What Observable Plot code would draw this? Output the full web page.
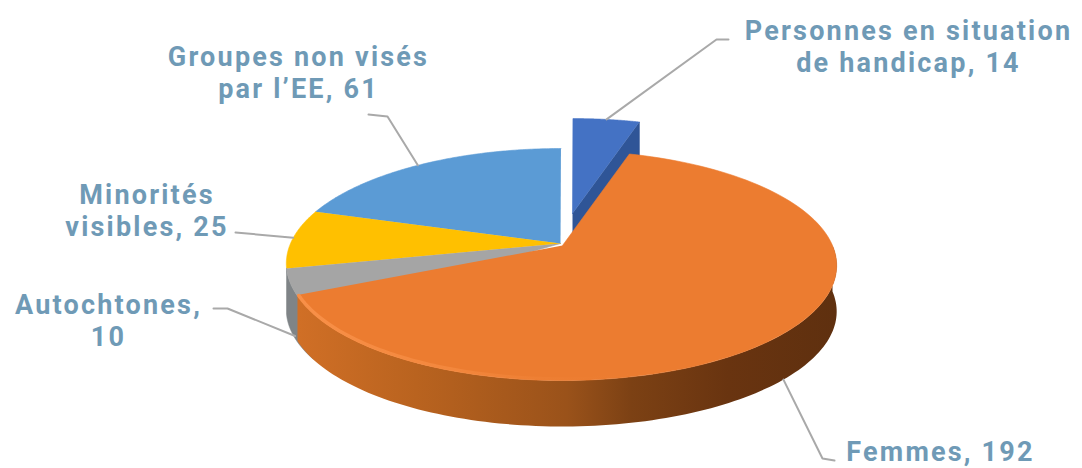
<!DOCTYPE html>
<html lang="fr">
<head>
<meta charset="utf-8">
<style>
  html, body { margin: 0; padding: 0; background: #fff; }
  svg { display: block; }
  svg text { letter-spacing: 2.2px; }
</style>
<script src="https://cdn.jsdelivr.net/npm/d3@7"></script>
<script src="https://cdn.jsdelivr.net/npm/@observablehq/plot@0.6"></script>
</head>
<body>
<div id="chart"></div>
<script>
// Slices in clockwise order, starting from the large one.
const names = ["Femmes", "Autochtones", "Minorités\nvisibles", "Groupes non visés\npar l’EE", "Personnes en situation\nde handicap"];
const separators = [", ", ",\n", ", ", ", ", ", "];
const values = [192, 10, 25, 61, 14];
const colors = ["#ec7c30", "#a5a5a5", "#ffc000", "#5b9bd5", "#4472c4"];
const wallColors = ["url(#wall)", "#7f8487", "#c79500", "#3f78aa", "#2f5597"];

// Perspective model of the disc, in pixels.
const disc = {cx: 560, cy: 243, rx: 270, ry: 111.5, tilt: 0.174, depth: 46, start: 16.8};
const exploded = {0: {dx: 2, dy: 2}, 4: {dx: 12, dy: -30}};

// Label placement: centre of the text block, and the elbow of its leader.
const labelX = [940, 108, 146.5, 298, 908];
const labelY = [450, 319, 209, 71, 45];
const leaderElbows = [
  [[822, 458], [834, 460]],
  [[227, 308], [213, 308]],
  [[235, 232]],
  [[387, 116], [368, 114]],
  [[716, 39], [728, 39]]
];
const leaderAngles = [134, 246, 273, 323, 8.5];

const rad = (d) => (d * Math.PI) / 180;
const project = (deg, drop = 0, off = {dx: 0, dy: 0}) => {
  const w = 1 + disc.tilt * Math.cos(rad(deg));
  return {
    x: disc.cx + off.dx + (disc.rx * Math.sin(rad(deg))) / w,
    y: disc.cy + off.dy - (disc.ry * Math.cos(rad(deg))) / w + drop
  };
};

const arcs = d3.pie().sort(null).startAngle(rad(disc.start)).endAngle(rad(disc.start + 360))(values)
  .map((a) => ({a0: (a.startAngle * 180) / Math.PI, a1: (a.endAngle * 180) / Math.PI}));

const sweep = (a0, a1) => d3.range(0, 121).map((i) => a0 + ((a1 - a0) * i) / 120);

// Slices behind the large one reach a little under it, so its offset leaves no seam.
const tuck = {1: 10};

const topFace = (i) => {
  const off = exploded[i];
  const centre = {x: disc.cx + (off?.dx ?? 0), y: disc.cy + (off?.dy ?? 0)};
  return [centre, ...sweep(arcs[i].a0 - (tuck[i] ?? 0), arcs[i].a1).map((t) => project(t, 0, off))];
};

// Outer wall below the rim, limited to the front half of the disc.
const rimWall = (i, from, to) => {
  const off = exploded[i];
  const angles = sweep(Math.max(arcs[i].a0 - (tuck[i] ?? 0), from), Math.min(arcs[i].a1, to));
  return [...angles.map((t) => project(t, 0, off)), ...angles.reverse().map((t) => project(t, disc.depth, off))];
};

// Cut face of the pulled-out slice, along its clockwise edge.
const cutFace = (i) => {
  const off = exploded[i];
  const a = {x: disc.cx + off.dx, y: disc.cy + off.dy};
  const b = project(arcs[i].a1, 0, off);
  return [a, b, {x: b.x, y: b.y + disc.depth}, {x: a.x, y: a.y + disc.depth}];
};

const polygon = (points, fill) => Plot.line(points, {x: "x", y: "y", fill, stroke: fill.startsWith("url") ? "none" : fill, strokeWidth: 0.6});

const leaderDrops = [disc.depth, disc.depth * 0.95, 0, 0, 0];
const leaders = leaderAngles.map((t, i) => [
  project(t, leaderDrops[i], exploded[i]),
  ...leaderElbows[i].map(([x, y]) => ({x, y}))
]);

const labels = names.map((n, i) => ({text: `${n}${separators[i]}${values[i]}`, x: labelX[i], y: labelY[i]}));

const gradients = () => {
  const defs = d3.create("svg:defs");
  const wall = defs.append("linearGradient").attr("id", "wall").attr("gradientUnits", "userSpaceOnUse")
    .attr("x1", 298).attr("x2", 835).attr("y1", 0).attr("y2", 0);
  [[0, "#d06f26"], [0.22, "#b9631f"], [0.5, "#9a521a"], [0.62, "#7c4114"], [0.8, "#693410"], [1, "#5f300f"]]
    .forEach(([o, c]) => wall.append("stop").attr("offset", o).attr("stop-color", c));
  const rim = defs.append("linearGradient").attr("id", "rim").attr("gradientUnits", "userSpaceOnUse")
    .attr("x1", 298).attr("x2", 640).attr("y1", 0).attr("y2", 0);
  [[0, "#f89048", 1], [0.45, "#f58a40", 0.8], [1, "#ec7c30", 0]]
    .forEach(([o, c, a]) => rim.append("stop").attr("offset", o).attr("stop-color", c).attr("stop-opacity", a));
  return defs.node();
};

const chart = Plot.plot({
  width: 1082,
  height: 468,
  margin: 0,
  style: {background: "#fff", overflow: "visible"},
  x: {domain: [0, 1082], range: [0, 1082], axis: null},
  y: {domain: [0, 468], range: [0, 468], axis: null},
  marks: [
    gradients,
    polygon(cutFace(4), wallColors[4]),
    polygon(topFace(4), colors[4]),
    polygon(topFace(3), colors[3]),
    polygon(topFace(2), colors[2]),
    polygon(rimWall(1, 90, 262), wallColors[1]),
    polygon(topFace(1), colors[1]),
    polygon(rimWall(0, 90, 262), wallColors[0]),
    polygon(topFace(0), colors[0]),
    Plot.line(sweep(150, arcs[0].a1 - 1).map((t) => project(t, -1.5, exploded[0])), {x: "x", y: "y", stroke: "url(#rim)", strokeWidth: 3.5}),
    ...leaders.map((pts) => Plot.line(pts, {x: "x", y: "y", stroke: "#a9a9a9", strokeWidth: 2})),
    Plot.text(labels, {
      x: "x", y: "y", text: "text",
      fill: "#6f9ab6",
      fontFamily: "Roboto, sans-serif",
      fontWeight: 700,
      fontSize: 27,
      lineHeight: 1.185,
      textAnchor: "middle"
    })
  ]
});
document.getElementById("chart").append(chart);
</script>
</body>
</html>
